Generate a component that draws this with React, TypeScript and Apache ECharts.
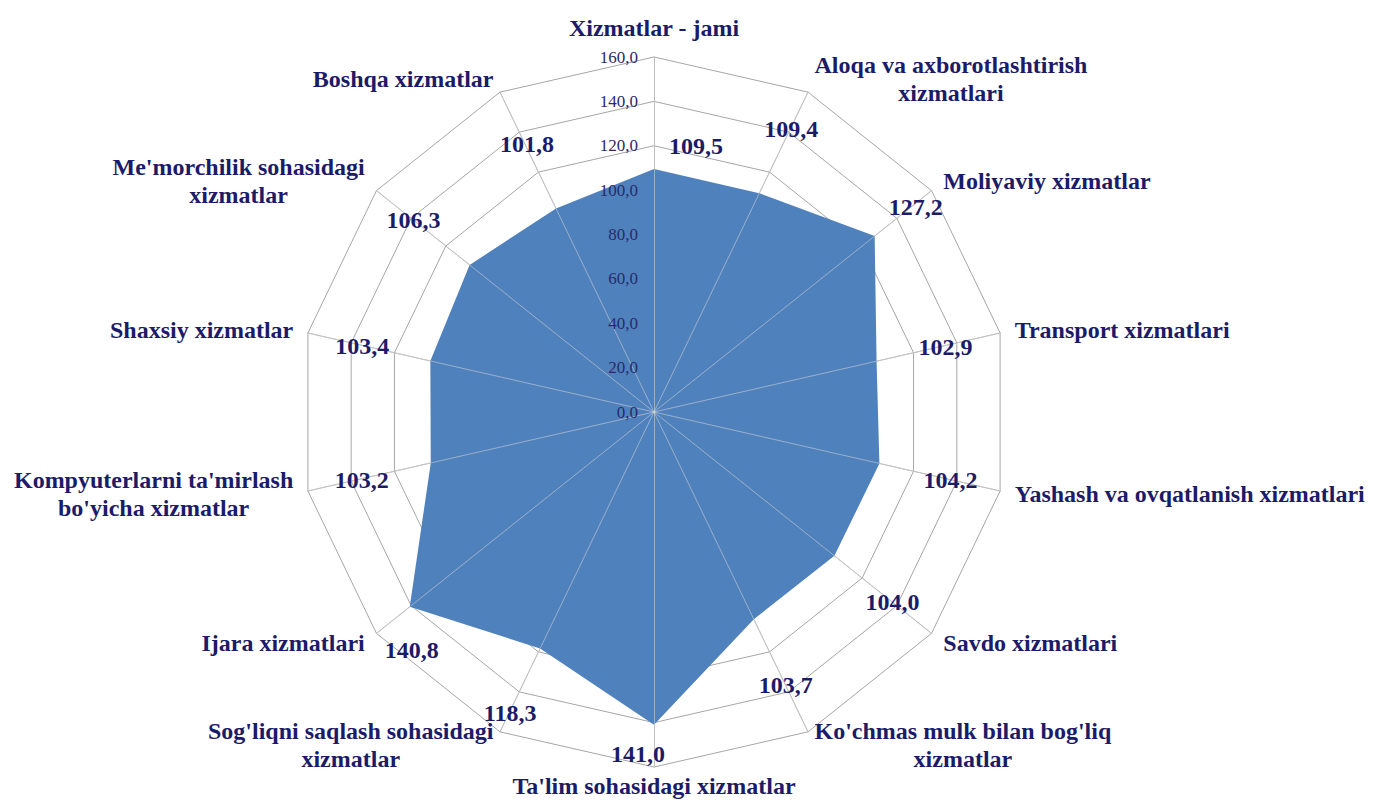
import React, { useEffect, useRef } from "react";
import * as echarts from "echarts";

// ---- Data ----
const categories: string[] = [
  "Xizmatlar - jami",
  "Aloqa va axborotlashtirish\nxizmatlari",
  "Moliyaviy xizmatlar",
  "Transport xizmatlari",
  "Yashash va ovqatlanish xizmatlari",
  "Savdo xizmatlari",
  "Ko'chmas mulk bilan bog'liq\nxizmatlar",
  "Ta'lim sohasidagi xizmatlar",
  "Sog'liqni saqlash sohasidagi\nxizmatlar",
  "Ijara xizmatlari",
  "Kompyuterlarni ta'mirlash\nbo'yicha xizmatlar",
  "Shaxsiy xizmatlar",
  "Me'morchilik sohasidagi\nxizmatlar",
  "Boshqa xizmatlar",
];

const values: number[] = [
  109.5, 109.4, 127.2, 102.9, 104.2, 104.0, 103.7, 141.0, 118.3, 140.8, 103.2,
  103.4, 106.3, 101.8,
];

const axisMin = 0;
const axisMax = 160;
const axisStep = 20;

// ---- Style / layout ----
const CENTER: [number, number] = [654, 412];
const RADIUS = 355;
const NAVY = "#1B1B68";
const FONT = "'Liberation Serif', 'Times New Roman', serif";
// label offsets (px) from each data vertex, clockwise from top
const LABEL_OFFSETS: [number, number][] = [
  [42, -23],
  [32, -64],
  [41, -29],
  [69, -14],
  [71, 17],
  [58, 46],
  [32, 66],
  [-16, 29],
  [-30, 65],
  [2, 43],
  [-69, 17],
  [-68, -15],
  [-56, -45],
  [-29, -64],
];

const fmt = (v: number) => v.toFixed(1).replace(".", ",");

export default function App() {
  const ref = useRef<HTMLDivElement>(null);

  useEffect(() => {
    if (!ref.current) return;
    const chart = echarts.init(ref.current, undefined, { renderer: "svg" });

    const n = categories.length;
    // ECharts radar runs counter-clockwise; reorder so the chart reads clockwise
    const order = [0, ...Array.from({ length: n - 1 }, (_, k) => n - 1 - k)];
    const bottomIdx = 7;
    const indicator = order.map((i) => ({
      name: categories[i],
      min: axisMin,
      max: axisMax,
      ...(i === bottomIdx ? { nameGap: 5 } : {}),
    }));
    const overlayIndicator = order.map((i, k) => ({
      name: categories[i],
      min: axisMin,
      max: axisMax,
      ...(k === 0 ? { axisLabel: { show: true } } : {}),
    }));

    const option: any = {
      animation: false,
      backgroundColor: "#ffffff",
      radar: [
        {
          center: CENTER,
          radius: RADIUS,
          startAngle: 90,
          shape: "polygon",
          splitNumber: (axisMax - axisMin) / axisStep,
          indicator,
          axisName: {
            color: NAVY,
            fontFamily: FONT,
            fontWeight: "bold",
            fontSize: 24,
            lineHeight: 28,
            formatter: (name: string) =>
              name
                .split("\n")
                .map((l) => `{c|${l}}`)
                .join("\n"),
            rich: {
              c: {
                align: "center",
                color: NAVY,
                fontFamily: FONT,
                fontWeight: "bold",
                fontSize: 24,
                lineHeight: 28,
              },
            },
          },
          nameGap: 15,
          axisLine: { lineStyle: { color: "#A6A6A6", width: 1 } },
          splitLine: { lineStyle: { color: "#A6A6A6", width: 1 } },
          splitArea: { show: false },
          axisTick: { show: false },
          axisLabel: { show: false },
        },
        {
          center: CENTER,
          radius: RADIUS,
          startAngle: 90,
          shape: "polygon",
          splitNumber: (axisMax - axisMin) / axisStep,
          indicator: overlayIndicator,
          z: 5,
          axisName: { show: false },
          axisLine: { lineStyle: { color: "rgba(215,215,215,0.55)", width: 1 } },
          splitLine: { show: false },
          splitArea: { show: false },
          axisTick: { show: false },
          axisLabel: {
            show: false,
            color: "#2A2A6A",
            fontFamily: FONT,
            fontSize: 17,
            margin: 16,
            showMinLabel: true,
            showMaxLabel: true,
            formatter: (v: number) => fmt(v),
          },
        },
      ],
      polar: { center: CENTER, radius: RADIUS },
      angleAxis: {
        type: "value",
        min: 0,
        max: n,
        startAngle: 90,
        clockwise: true,
        show: false,
      },
      radiusAxis: { type: "value", min: axisMin, max: axisMax, show: false },
      series: [
        {
          type: "radar",
          radarIndex: 0,
          symbol: "none",
          z: 2,
          lineStyle: { width: 0 },
          areaStyle: { color: "#4F81BD", opacity: 1 },
          data: [{ value: order.map((i) => values[i]), name: "Xizmatlar" }],
        },
        {
          type: "scatter",
          coordinateSystem: "polar",
          symbolSize: 1,
          itemStyle: { color: "rgba(0,0,0,0)", opacity: 1 },
          z: 10,
          label: {
            show: true,
            position: "inside",
            color: NAVY,
            fontFamily: FONT,
            fontWeight: "bold",
            fontSize: 24,
            formatter: (p: any) => fmt(p.value[0]),
          },
          data: values.map((v, i) => ({
            value: [v, i],
            label: { offset: LABEL_OFFSETS[i] },
          })),
        },
      ],
    };

    chart.setOption(option);
    return () => chart.dispose();
  }, []);

  return (
    <div
      ref={ref}
      style={{ position: "absolute", left: 0, top: 0, width: 1373, height: 804 }}
    />
  );
}
